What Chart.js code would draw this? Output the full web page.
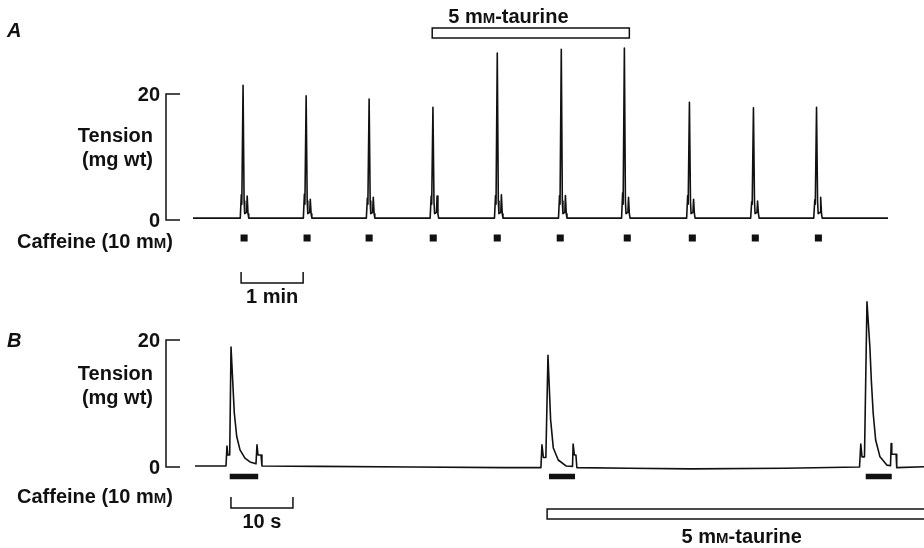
<!DOCTYPE html>
<html>
<head>
<meta charset="utf-8">
<script src="https://cdn.jsdelivr.net/npm/chart.js@4.4.0/dist/chart.umd.min.js"></script>
<style>
    html, body { margin: 0; padding: 0; background: #fff; }
    #wrap { position: relative; width: 924px; height: 548px; overflow: hidden; }
    canvas { position: absolute; left: 0; }
    #chartA { top: 0; }
    #chartB { top: 274px; }
</style>
</head>
<body>
<div id="wrap">
    <canvas id="chartA" width="924" height="320"></canvas>
    <canvas id="chartB" width="924" height="274"></canvas>
</div>
<script>
// ---- Panel A: slow record, time in s from start of trace, tension in mg wt ----
const spikeTimesA = [48.4, 109.4, 170.3, 232.0, 294.2, 356.1, 417.1, 480.0, 541.9, 602.9];
const peakTensionA = [21.4, 19.7, 19.2, 17.9, 26.5, 27.1, 27.3, 18.7, 17.8, 17.9];
const preBumpA = [4.0, 4.1, 3.5, 3.8, 3.9, 3.9, 4.3, 3.9, 2.9, 3.2];
const postBumpA = [3.8, 3.3, 3.6, 3.8, 4.0, 3.9, 3.6, 3.3, 3.0, 3.6];
const caffeineA = [49.4, 110.3, 170.3, 232.3, 294.2, 355.1, 419.9, 482.8, 543.7, 604.7];
const taurineA = [231.3, 421.9];
const timeBarA = [46.5, 106.5];     // 1 min
const traceEndA = 672;
const restTensionA = 0.3;
// shape of one contracture seen at this speed (s relative to the peak, mg wt)
const spikeOffsets = [-2.7, -1.7, -1.2, 0, 1.0, 1.6, 3.4, 4.0, 4.8, 5.5];
const spikeTrough = [null, null, 2.5, null, 3.0, 1.0, 1.2, null, 1.0, null];

// ---- Panel B: fast record, time in s from start of trace ----
const traceTimeB = [0, 5.0, 5.16, 5.3, 5.6, 5.81, 6.34, 6.73, 7.26, 8.06, 8.87, 9.84, 10.0, 10.16, 10.65, 10.8,
    20, 35, 50, 55.8, 55.97, 56.2, 56.6, 56.94, 57.37, 57.8, 58.6, 59.9, 60.9, 61.0, 61.2, 61.45, 61.6,
    70, 80, 95, 107.2, 107.4, 107.6, 108.0, 108.4, 108.87, 109.1, 109.4, 109.8, 110.5, 111.6, 112.2, 112.3,
    112.4, 113.1, 113.2, 117.6];
const traceTensionB = [0.15, 0.15, 3.3, 1.9, 1.9, 18.9, 8.5, 4.8, 2.7, 1.4, 0.8, 0.5, 3.5, 1.9, 1.9, 0.15,
    0.1, 0.0, -0.1, -0.1, 3.5, 1.5, 1.5, 17.6, 7.4, 3.0, 1.1, 0.15, 0.1, 3.6, 1.9, 1.9, -0.1,
    -0.2, -0.3, -0.2, 0.0, 3.6, 1.6, 1.6, 26.0, 18.9, 13.7, 8.5, 4.25, 1.6, 0.3, 0.2, 3.7,
    2.0, 2.0, -0.1, 0.05];
const caffeineB = [[5.6, 10.2], [57.1, 61.3], [108.2, 112.4]];
const taurineB = [56.8, 119.6];
const timeBarB = [5.8, 15.8];       // 10 s

const INK = '#111';
const FONT = '"Liberation Sans", Arial, Helvetica, sans-serif';

// build trace A from the measured spikes
const traceA = [{ x: 0, y: restTensionA }];
spikeTimesA.forEach((t, i) => {
    const levels = [restTensionA, preBumpA[i], spikeTrough[2], peakTensionA[i], spikeTrough[4],
        spikeTrough[5], spikeTrough[6], postBumpA[i], spikeTrough[8], restTensionA];
    spikeOffsets.forEach((dt, k) => traceA.push({ x: t + dt, y: levels[k] }));
});
traceA.push({ x: traceEndA, y: restTensionA });

const traceB = traceTimeB.map((t, i) => ({ x: t, y: traceTensionB[i] }));
const caffeineBarsB = [];
caffeineB.forEach(([a, b]) => {
    caffeineBarsB.push({ x: a, y: -1.5 }, { x: b, y: -1.5 }, { x: b, y: null });
});

// text with a small-capital M (mM)
function richText(ctx, parts, x, y, align) {
    let total = 0;
    parts.forEach(([t, s]) => { ctx.font = `bold ${s}px ${FONT}`; total += ctx.measureText(t).width; });
    let cx = align === 'right' ? x - total : align === 'center' ? x - total / 2 : x;
    ctx.textAlign = 'left';
    ctx.textBaseline = 'alphabetic';
    parts.forEach(([t, s]) => {
        ctx.font = `bold ${s}px ${FONT}`;
        ctx.fillText(t, cx, y);
        cx += ctx.measureText(t).width;
    });
}

function decorPlugin(o) {
    return {
        id: 'decor' + o.letter,
        afterDraw(chart) {
            const { ctx, scales: { x, y } } = chart;
            ctx.save();
            ctx.fillStyle = INK;
            ctx.strokeStyle = INK;
            ctx.lineWidth = 1.5;

            // panel letter
            ctx.font = `italic bold 20px ${FONT}`;
            ctx.textAlign = 'left';
            ctx.textBaseline = 'alphabetic';
            ctx.fillText(o.letter, 7, o.letterY);

            // tension calibration bracket 0-20
            const y0 = y.getPixelForValue(0), y20 = y.getPixelForValue(20);
            ctx.beginPath();
            ctx.moveTo(180, y20); ctx.lineTo(166, y20); ctx.lineTo(166, y0); ctx.lineTo(180, y0);
            ctx.stroke();
            richText(ctx, [['20', 20]], 160, y20 + 7, 'right');
            richText(ctx, [['0', 20]], 160, y0 + 6.5, 'right');
            richText(ctx, [['Tension', 20]], 153, o.tensionY, 'right');
            richText(ctx, [['(mg wt)', 20]], 153, o.tensionY + 24, 'right');
            richText(ctx, [['Caffeine (10 m', 20], ['M', 15], [')', 20]], 17, o.caffeineY, 'left');

            // time calibration bar
            const xa = x.getPixelForValue(o.timeBar[0]), xb = x.getPixelForValue(o.timeBar[1]);
            ctx.beginPath();
            ctx.moveTo(xa, o.timeBarY - 11); ctx.lineTo(xa, o.timeBarY);
            ctx.lineTo(xb, o.timeBarY); ctx.lineTo(xb, o.timeBarY - 11);
            ctx.stroke();
            richText(ctx, [[o.timeLabel, 20]], (xa + xb) / 2, o.timeBarY + 20, 'center');

            // taurine bar
            const ta = x.getPixelForValue(o.taurine[0]), tb = x.getPixelForValue(o.taurine[1]);
            ctx.strokeRect(ta, o.taurineY, tb - ta, 10);
            const lx = o.taurineLabelAlign === 'left' ? ta + 16 : (ta + tb) / 2;
            richText(ctx, [['5 m', 20], ['M', 15], ['-taurine', 20]], lx, o.taurineLabelY, o.taurineLabelAlign);
            ctx.restore();
        }
    };
}

const commonOptions = (padding, xmax, ymin) => ({
    responsive: false,
    animation: false,
    events: [],
    layout: { padding },
    scales: {
        x: { type: 'linear', display: false, min: 0, max: xmax },
        y: { display: false, min: ymin, max: 30 }
    },
    plugins: { legend: { display: false }, tooltip: { enabled: false } }
});

const traceStyle = {
    borderColor: INK, borderWidth: 1.6, pointRadius: 0, tension: 0,
    borderJoinStyle: 'round', fill: false
};

new Chart(document.getElementById('chartA'), {
    type: 'line',
    data: {
        datasets: [
            { data: traceA, ...traceStyle },
            {
                data: caffeineA.map(t => ({ x: t, y: -2.86 })),
                showLine: false, pointStyle: 'rect', pointRadius: 5,
                pointBackgroundColor: INK, pointBorderWidth: 0
            }
        ]
    },
    options: commonOptions({ left: 193, right: 36, top: 31, bottom: 62.2 }, traceEndA, -6),
    plugins: [decorPlugin({
        letter: 'A', letterY: 37, tensionY: 141.5, caffeineY: 247.5,
        timeBar: timeBarA, timeBarY: 283, timeLabel: '1 min',
        taurine: taurineA, taurineY: 28, taurineLabelY: 22.5, taurineLabelAlign: 'left'
    })]
});

new Chart(document.getElementById('chartB'), {
    type: 'line',
    data: {
        datasets: [
            { data: traceB, ...traceStyle },
            {
                data: caffeineBarsB, borderColor: INK, borderWidth: 5.5, pointRadius: 0,
                borderCapStyle: 'butt', spanGaps: false
            }
        ]
    },
    options: commonOptions({ left: 195, right: 0, top: 2.5, bottom: 55.6 }, 117.6, -4),
    plugins: [decorPlugin({
        letter: 'B', letterY: 73, tensionY: 106, caffeineY: 229,
        timeBar: timeBarB, timeBarY: 234, timeLabel: '10 s',
        taurine: taurineB, taurineY: 235, taurineLabelY: 269, taurineLabelAlign: 'center'
    })]
});
</script>
</body>
</html>
